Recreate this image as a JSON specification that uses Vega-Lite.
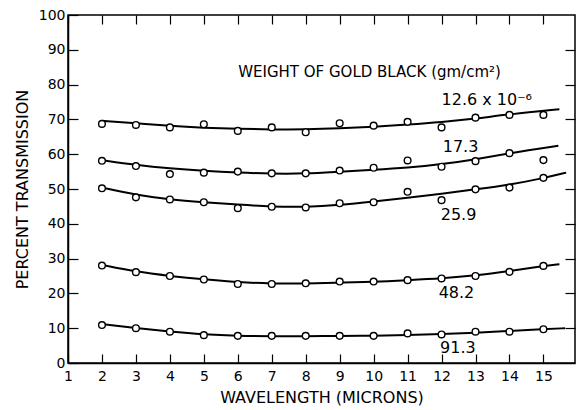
{
  "$schema": "https://vega.github.io/schema/vega-lite/v6.json",
  "width": 507,
  "height": 348,
  "autosize": {"type": "none"},
  "padding": {"left": 68, "top": 15, "right": 2, "bottom": 47},
  "background": "white",
  "config": {
    "view": {"stroke": "black", "strokeWidth": 1.5},
    "font": "DejaVu Sans",
    "axis": {"grid": false, "domainColor": "black", "domainWidth": 1.5, "tickColor": "black", "tickWidth": 1.2, "labelColor": "black", "titleColor": "black", "labelFont": "DejaVu Sans", "titleFont": "DejaVu Sans", "titleFontWeight": "normal"}
  },
  "datasets": {
    "points": [
      {"series": "12.6", "x": 2, "y": 68.7}, {"series": "12.6", "x": 3, "y": 68.4}, {"series": "12.6", "x": 4, "y": 67.7}, {"series": "12.6", "x": 5, "y": 68.6}, {"series": "12.6", "x": 6, "y": 66.7}, {"series": "12.6", "x": 7, "y": 67.7}, {"series": "12.6", "x": 8, "y": 66.3}, {"series": "12.6", "x": 9, "y": 68.9}, {"series": "12.6", "x": 10, "y": 68.2}, {"series": "12.6", "x": 11, "y": 69.3}, {"series": "12.6", "x": 12, "y": 67.7}, {"series": "12.6", "x": 13, "y": 70.5}, {"series": "12.6", "x": 14, "y": 71.3}, {"series": "12.6", "x": 15, "y": 71.3},
      {"series": "17.3", "x": 2, "y": 58.1}, {"series": "17.3", "x": 3, "y": 56.6}, {"series": "17.3", "x": 4, "y": 54.3}, {"series": "17.3", "x": 5, "y": 54.7}, {"series": "17.3", "x": 6, "y": 55.0}, {"series": "17.3", "x": 7, "y": 54.5}, {"series": "17.3", "x": 8, "y": 54.5}, {"series": "17.3", "x": 9, "y": 55.3}, {"series": "17.3", "x": 10, "y": 56.1}, {"series": "17.3", "x": 11, "y": 58.2}, {"series": "17.3", "x": 12, "y": 56.4}, {"series": "17.3", "x": 13, "y": 58.0}, {"series": "17.3", "x": 14, "y": 60.3}, {"series": "17.3", "x": 15, "y": 58.3},
      {"series": "25.9", "x": 2, "y": 50.2}, {"series": "25.9", "x": 3, "y": 47.6}, {"series": "25.9", "x": 4, "y": 47.0}, {"series": "25.9", "x": 5, "y": 46.2}, {"series": "25.9", "x": 6, "y": 44.5}, {"series": "25.9", "x": 7, "y": 44.9}, {"series": "25.9", "x": 8, "y": 44.7}, {"series": "25.9", "x": 9, "y": 45.9}, {"series": "25.9", "x": 10, "y": 46.2}, {"series": "25.9", "x": 11, "y": 49.2}, {"series": "25.9", "x": 12, "y": 46.8}, {"series": "25.9", "x": 13, "y": 49.9}, {"series": "25.9", "x": 14, "y": 50.4}, {"series": "25.9", "x": 15, "y": 53.2},
      {"series": "48.2", "x": 2, "y": 28.0}, {"series": "48.2", "x": 3, "y": 26.1}, {"series": "48.2", "x": 4, "y": 25.0}, {"series": "48.2", "x": 5, "y": 24.0}, {"series": "48.2", "x": 6, "y": 22.7}, {"series": "48.2", "x": 7, "y": 22.7}, {"series": "48.2", "x": 8, "y": 22.9}, {"series": "48.2", "x": 9, "y": 23.4}, {"series": "48.2", "x": 10, "y": 23.4}, {"series": "48.2", "x": 11, "y": 23.8}, {"series": "48.2", "x": 12, "y": 24.3}, {"series": "48.2", "x": 13, "y": 25.0}, {"series": "48.2", "x": 14, "y": 26.2}, {"series": "48.2", "x": 15, "y": 27.9},
      {"series": "91.3", "x": 2, "y": 10.9}, {"series": "91.3", "x": 3, "y": 10.0}, {"series": "91.3", "x": 4, "y": 9.0}, {"series": "91.3", "x": 5, "y": 8.0}, {"series": "91.3", "x": 6, "y": 7.8}, {"series": "91.3", "x": 7, "y": 7.8}, {"series": "91.3", "x": 8, "y": 7.8}, {"series": "91.3", "x": 9, "y": 7.8}, {"series": "91.3", "x": 10, "y": 7.8}, {"series": "91.3", "x": 11, "y": 8.5}, {"series": "91.3", "x": 12, "y": 8.2}, {"series": "91.3", "x": 13, "y": 9.0}, {"series": "91.3", "x": 14, "y": 9.0}, {"series": "91.3", "x": 15, "y": 9.7}
    ],
    "curves": [
      {"series": "12.6", "x": 2, "y": 69.6}, {"series": "12.6", "x": 3, "y": 68.9}, {"series": "12.6", "x": 4, "y": 68.1}, {"series": "12.6", "x": 5, "y": 67.6}, {"series": "12.6", "x": 6, "y": 67.3}, {"series": "12.6", "x": 7, "y": 67.1}, {"series": "12.6", "x": 8, "y": 67.1}, {"series": "12.6", "x": 9, "y": 67.4}, {"series": "12.6", "x": 10, "y": 67.9}, {"series": "12.6", "x": 11, "y": 68.5}, {"series": "12.6", "x": 12, "y": 69.2}, {"series": "12.6", "x": 13, "y": 70.2}, {"series": "12.6", "x": 14, "y": 71.5}, {"series": "12.6", "x": 15.47, "y": 72.9},
      {"series": "17.3", "x": 2, "y": 58.3}, {"series": "17.3", "x": 3, "y": 56.9}, {"series": "17.3", "x": 4, "y": 55.9}, {"series": "17.3", "x": 5, "y": 55.2}, {"series": "17.3", "x": 6, "y": 54.7}, {"series": "17.3", "x": 7, "y": 54.4}, {"series": "17.3", "x": 8, "y": 54.4}, {"series": "17.3", "x": 9, "y": 55.0}, {"series": "17.3", "x": 10, "y": 55.5}, {"series": "17.3", "x": 11, "y": 56.1}, {"series": "17.3", "x": 12, "y": 57.1}, {"series": "17.3", "x": 13, "y": 58.5}, {"series": "17.3", "x": 14, "y": 60.3}, {"series": "17.3", "x": 15.44, "y": 62.4},
      {"series": "25.9", "x": 2, "y": 50.4}, {"series": "25.9", "x": 3, "y": 48.3}, {"series": "25.9", "x": 4, "y": 47.0}, {"series": "25.9", "x": 5, "y": 46.2}, {"series": "25.9", "x": 6, "y": 45.5}, {"series": "25.9", "x": 7, "y": 44.9}, {"series": "25.9", "x": 8, "y": 44.8}, {"series": "25.9", "x": 9, "y": 45.4}, {"series": "25.9", "x": 10, "y": 46.4}, {"series": "25.9", "x": 11, "y": 47.5}, {"series": "25.9", "x": 12, "y": 48.6}, {"series": "25.9", "x": 13, "y": 49.9}, {"series": "25.9", "x": 14, "y": 51.2}, {"series": "25.9", "x": 15, "y": 53.1}, {"series": "25.9", "x": 15.67, "y": 54.7},
      {"series": "48.2", "x": 2, "y": 28.2}, {"series": "48.2", "x": 3, "y": 26.2}, {"series": "48.2", "x": 4, "y": 25.0}, {"series": "48.2", "x": 5, "y": 24.0}, {"series": "48.2", "x": 6, "y": 23.2}, {"series": "48.2", "x": 7, "y": 22.8}, {"series": "48.2", "x": 8, "y": 22.8}, {"series": "48.2", "x": 9, "y": 23.1}, {"series": "48.2", "x": 10, "y": 23.3}, {"series": "48.2", "x": 11, "y": 23.8}, {"series": "48.2", "x": 12, "y": 24.3}, {"series": "48.2", "x": 13, "y": 25.1}, {"series": "48.2", "x": 14, "y": 26.4}, {"series": "48.2", "x": 15, "y": 27.9}, {"series": "48.2", "x": 15.47, "y": 28.4},
      {"series": "91.3", "x": 2, "y": 11.2}, {"series": "91.3", "x": 3, "y": 10.0}, {"series": "91.3", "x": 4, "y": 9.0}, {"series": "91.3", "x": 5, "y": 8.2}, {"series": "91.3", "x": 6, "y": 7.8}, {"series": "91.3", "x": 7, "y": 7.7}, {"series": "91.3", "x": 8, "y": 7.7}, {"series": "91.3", "x": 9, "y": 7.8}, {"series": "91.3", "x": 10, "y": 7.8}, {"series": "91.3", "x": 11, "y": 8.0}, {"series": "91.3", "x": 12, "y": 8.3}, {"series": "91.3", "x": 13, "y": 8.7}, {"series": "91.3", "x": 14, "y": 9.2}, {"series": "91.3", "x": 15, "y": 9.7}, {"series": "91.3", "x": 15.64, "y": 10.0}
    ],
    "one": [{}]
  },
  "resolve": {"axis": {"x": "independent", "y": "independent"}},
  "layer": [
    {
      "data": {"name": "curves"},
      "mark": {"type": "line", "interpolate": "basis", "color": "black", "strokeWidth": 2},
      "encoding": {
        "x": {"field": "x", "type": "quantitative", "scale": {"domain": [1, 15.93], "nice": false, "zero": false},
          "axis": {"orient": "bottom", "values": [1,2,3,4,5,6,7,8,9,10,11,12,13,14,15], "tickSize": -9, "labelPadding": 15, "labelFontSize": 14, "title": "WAVELENGTH (MICRONS)", "titleFontSize": 16, "titlePadding": 6, "labelFlush": false}},
        "y": {"field": "y", "type": "quantitative", "scale": {"domain": [0, 100], "nice": false},
          "axis": {"orient": "left", "values": [0,10,20,30,40,50,60,70,80,90,100], "tickSize": -10, "labelPadding": 13, "labelFontSize": 14, "title": "PERCENT TRANSMISSION", "titleFontSize": 16, "titlePadding": 8, "labelFlush": false}},
        "detail": {"field": "series"}
      }
    },
    {
      "data": {"name": "points"},
      "mark": {"type": "point", "shape": "circle", "filled": false, "fill": "white", "fillOpacity": 1, "stroke": "black", "strokeWidth": 1.4, "size": 45, "opacity": 1},
      "encoding": {
        "x": {"field": "x", "type": "quantitative", "axis": {"orient": "top", "values": [1,2,3,4,5,6,7,8,9,10,11,12,13,14,15], "tickSize": -9, "labels": false, "title": null, "domain": false}},
        "y": {"field": "y", "type": "quantitative", "axis": {"orient": "right", "values": [10,20,30,40,50,60,70,80,90], "tickSize": -10, "labels": false, "title": null, "domain": false}}
      }
    },
    {
      "data": {"name": "one"},
      "mark": {"type": "text", "align": "center", "baseline": "middle", "fontSize": 15, "color": "black"},
      "encoding": {"x": {"datum": 9.88, "type": "quantitative", "axis": null}, "y": {"datum": 83.7, "type": "quantitative", "axis": null}, "text": {"value": "WEIGHT OF GOLD BLACK (gm/cm²)"}}
    },
    {
      "data": {"name": "one"},
      "mark": {"type": "text", "align": "left", "baseline": "middle", "fontSize": 16, "color": "black"},
      "encoding": {"x": {"datum": 12.0, "type": "quantitative", "axis": null}, "y": {"datum": 75.6, "type": "quantitative", "axis": null}, "text": {"value": "12.6 x 10⁻⁶"}}
    },
    {
      "data": {"name": "one"},
      "mark": {"type": "text", "align": "center", "baseline": "middle", "fontSize": 16, "color": "black"},
      "encoding": {"x": {"datum": 12.56, "type": "quantitative", "axis": null}, "y": {"datum": 62.2, "type": "quantitative", "axis": null}, "text": {"value": "17.3"}}
    },
    {
      "data": {"name": "one"},
      "mark": {"type": "text", "align": "center", "baseline": "middle", "fontSize": 16, "color": "black"},
      "encoding": {"x": {"datum": 12.5, "type": "quantitative", "axis": null}, "y": {"datum": 42.5, "type": "quantitative", "axis": null}, "text": {"value": "25.9"}}
    },
    {
      "data": {"name": "one"},
      "mark": {"type": "text", "align": "center", "baseline": "middle", "fontSize": 16, "color": "black"},
      "encoding": {"x": {"datum": 12.44, "type": "quantitative", "axis": null}, "y": {"datum": 20.0, "type": "quantitative", "axis": null}, "text": {"value": "48.2"}}
    },
    {
      "data": {"name": "one"},
      "mark": {"type": "text", "align": "center", "baseline": "middle", "fontSize": 16, "color": "black"},
      "encoding": {"x": {"datum": 12.48, "type": "quantitative", "axis": null}, "y": {"datum": 4.2, "type": "quantitative", "axis": null}, "text": {"value": "91.3"}}
    }
  ]
}
